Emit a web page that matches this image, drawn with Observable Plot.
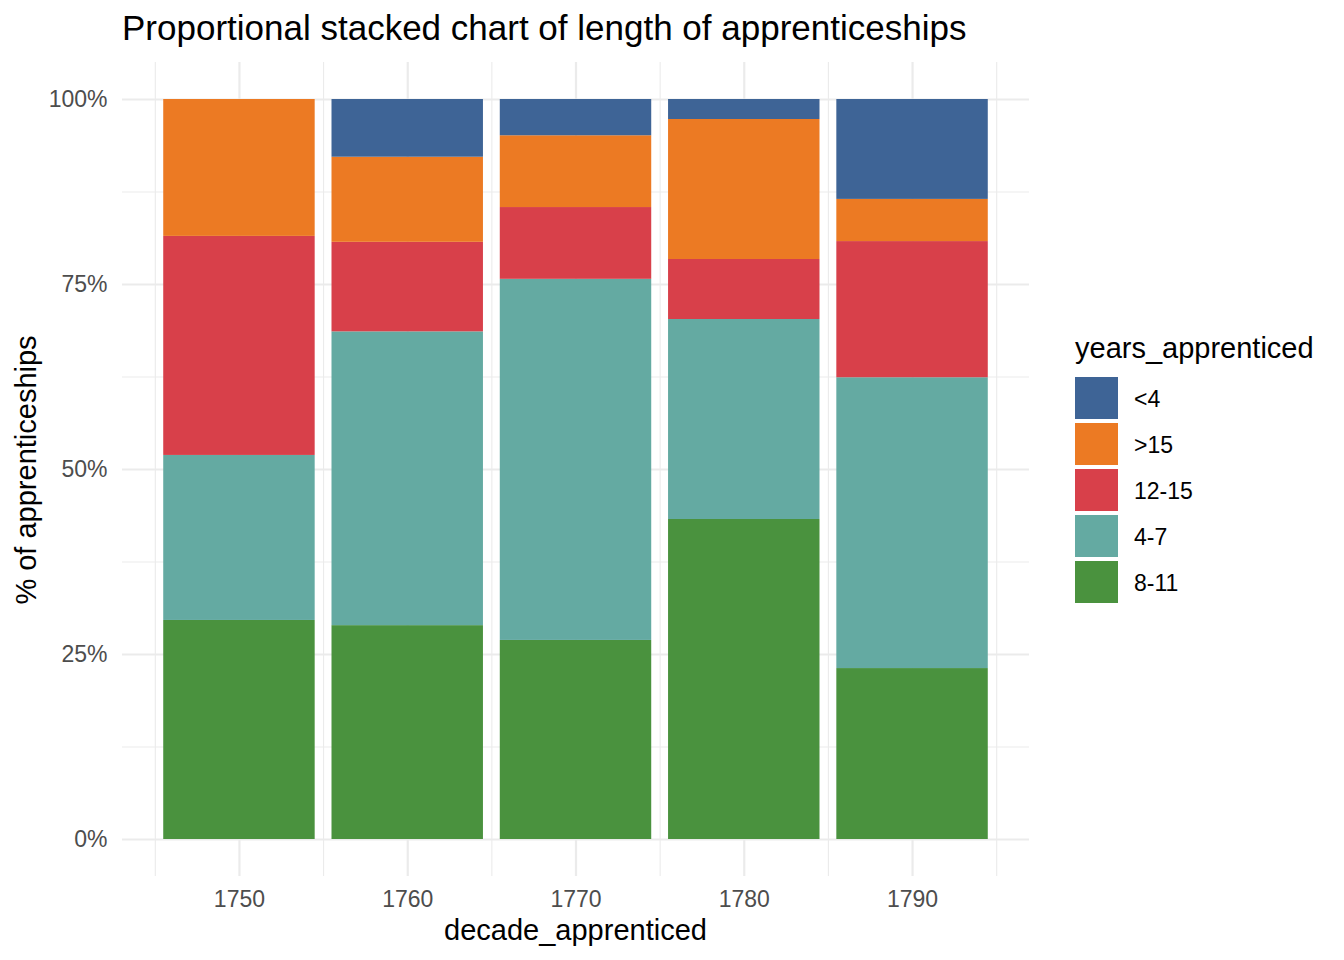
<!DOCTYPE html>
<html>
<head>
<meta charset="utf-8">
<script src="https://cdn.jsdelivr.net/npm/d3@7"></script>
<script src="https://cdn.jsdelivr.net/npm/@observablehq/plot@0.6"></script>
<style>
  html, body { margin: 0; padding: 0; background: #fff; }
  body { font-family: "Liberation Sans", Arial, Helvetica, sans-serif; }
  #wrap { position: relative; width: 1344px; height: 960px; overflow: hidden; }
  #chart { position: absolute; left: 0; top: 0; }
  .txt { position: absolute; white-space: nowrap; color: #000; }
  #title { left: 122px; top: 10.4px; font-size: 35px; line-height: 35px; }
  #xtitle { left: 122px; width: 907px; top: 915.5px; font-size: 29px; line-height: 29px; text-align: center; }
  #ytitle { left: 26px; top: 470px; width: 600px; font-size: 29px; line-height: 29px; text-align: center;
            transform: translate(-50%, -50%) rotate(-90deg); }
  #legend { position: absolute; left: 1075px; top: 333.5px; }
  #legend .ltitle { font-size: 29px; line-height: 29px; height: 43.5px; }
  #legend .row { display: flex; align-items: center; height: 42px; margin-bottom: 4px; }
  #legend .key { width: 43px; height: 42px; }
  #legend .lab { margin-left: 16px; font-size: 23px; line-height: 23px; padding-top: 3px; }
</style>
</head>
<body>
<div id="wrap">
  <div id="chart"></div>
  <div class="txt" id="title">Proportional stacked chart of length of apprenticeships</div>
  <div class="txt" id="xtitle">decade_apprenticed</div>
  <div class="txt" id="ytitle">% of apprenticeships</div>
  <div id="legend"></div>
</div>
<script>
// ---- data ----
const decades = [1750, 1760, 1770, 1780, 1790];
const categories = ["<4", ">15", "12-15", "4-7", "8-11"];           // legend order (top of stack first)
const colors = ["#3e6496", "#ec7a23", "#d8404a", "#64aaa2", "#4a923e"];
// share (%) of apprenticeships per decade, per length category
const shareLt4   = [0.0,  7.8,  4.9,  2.7, 13.5];
const shareGt15  = [18.5, 11.5, 9.7, 18.9,  5.7];
const share12_15 = [29.6, 12.1, 9.7,  8.1, 18.4];
const share4_7   = [22.3, 39.7, 48.8, 27.0, 39.3];
const share8_11  = [29.6, 28.9, 26.9, 43.2, 23.1];
const xMinorTicks = [1745, 1755, 1765, 1775, 1785, 1795];
const yTicks = [0, 25, 50, 75, 100];
const yMinorTicks = [12.5, 37.5, 62.5, 87.5];
const yTickLabels = ["0%", "25%", "50%", "75%", "100%"];
const barWidth = 9;

// ---- build stacked table ----
const sharesByCat = {
  "<4": shareLt4, ">15": shareGt15, "12-15": share12_15, "4-7": share4_7, "8-11": share8_11
};
const stackOrder = categories.slice().reverse(); // bottom first
const rows = [];
decades.forEach((dec, i) => {
  const total = d3.sum(stackOrder, c => sharesByCat[c][i]);
  let acc = 0;
  for (const c of stackOrder) {
    const v = sharesByCat[c][i];
    rows.push({decade: dec, cat: c, y1: acc / total * 100, y2: (acc + v) / total * 100});
    acc += v;
  }
});

const lo = d3.min(decades) - barWidth / 2, hi = d3.max(decades) + barWidth / 2;
const padX = (hi - lo) * 0.05;
const padY = 100 * 0.05;

const W = 1344, H = 960;
const chart = Plot.plot({
  width: W, height: H,
  marginLeft: 122, marginRight: 315, marginTop: 62, marginBottom: 84,
  x: {type: "linear", domain: [lo - padX, hi + padX]},
  y: {domain: [0 - padY, 100 + padY]},
  color: {domain: categories, range: colors},
  style: {fontFamily: "'Liberation Sans', Arial, Helvetica, sans-serif", fontSize: "23px", color: "#4d4d4d", background: "white"},
  marks: [
    Plot.ruleX(xMinorTicks, {stroke: "#ebebeb", strokeWidth: 1.1}),
    Plot.ruleY(yMinorTicks, {stroke: "#ebebeb", strokeWidth: 1.1}),
    Plot.ruleX(decades, {stroke: "#ebebeb", strokeWidth: 2.2}),
    Plot.ruleY(yTicks, {stroke: "#ebebeb", strokeWidth: 2.2}),
    Plot.rect(rows, {
      x1: d => d.decade - barWidth / 2,
      x2: d => d.decade + barWidth / 2,
      y1: "y1", y2: "y2", fill: "cat"
    }),
    Plot.axisX({ticks: decades, tickFormat: d => String(d), tickSize: 0, tickPadding: 14, fontSize: 23, fill: "#4d4d4d", label: null}),
    Plot.axisY({ticks: yTicks, tickFormat: d => yTickLabels[yTicks.indexOf(d)], tickSize: 0, tickPadding: 15, fontSize: 23, fill: "#4d4d4d", label: null})
  ]
});
document.getElementById("chart").appendChild(chart);

// ---- legend ----
const legend = d3.select("#legend");
legend.append("div").attr("class", "ltitle").text("years_apprenticed");
categories.forEach((c, i) => {
  const row = legend.append("div").attr("class", "row");
  row.append("div").attr("class", "key").style("background", colors[i]);
  row.append("div").attr("class", "lab").text(c);
});
</script>
</body>
</html>
